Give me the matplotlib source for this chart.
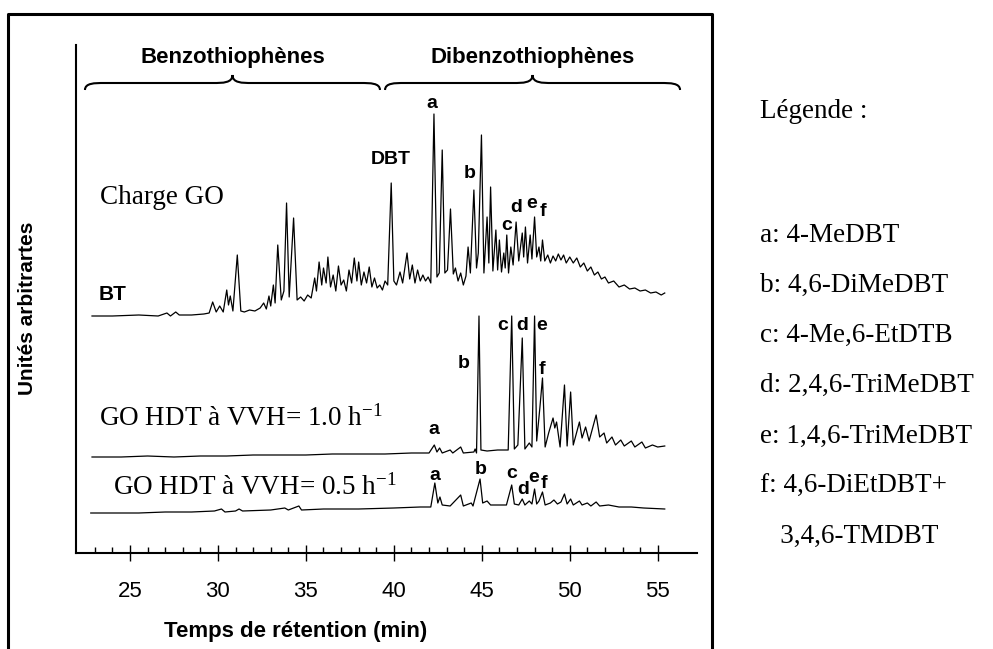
# -*- coding: utf-8 -*-

import matplotlib
matplotlib.use("Agg")
from matplotlib import pyplot as plt
from matplotlib.path import Path
from matplotlib.patches import PathPatch
from matplotlib.lines import Line2D

plt.rcParams['font.family'] = ['Liberation Sans', 'DejaVu Sans']
plt.rcParams['mathtext.fontset'] = 'custom'
plt.rcParams['mathtext.rm'] = 'Liberation Serif'
plt.rcParams['mathtext.default'] = 'rm'

# chromatograms: (retention time in min, signal in arbitrary units)
charge_go = [
    (22.84, 237), (24.0, 237), (25.5, 238), (26.6, 237), (27.1, 240), (27.3, 237), (27.6, 241),
    (27.8, 238), (28.5, 238), (29.2, 239), (29.5, 240), (29.7, 251), (29.9, 241), (30.1, 247),
    (30.3, 241), (30.5, 263), (30.6, 248), (30.7, 257), (30.85, 242), (31.1, 298), (31.3, 242),
    (31.5, 241), (31.8, 243), (32.1, 242), (32.4, 245), (32.6, 250), (32.75, 244), (32.9, 257),
    (33.0, 247), (33.15, 268), (33.25, 250), (33.4, 308), (33.6, 253), (33.75, 262), (33.9, 350),
    (34.05, 256), (34.3, 335), (34.5, 253), (34.7, 256), (34.9, 252), (35.1, 258), (35.3, 255),
    (35.5, 275), (35.6, 262), (35.75, 291), (35.9, 268), (36.0, 285), (36.15, 270), (36.25, 296),
    (36.4, 266), (36.55, 278), (36.7, 262), (36.85, 287), (37.0, 268), (37.15, 273), (37.3, 262),
    (37.45, 283), (37.6, 270), (37.75, 295), (37.9, 272), (38.0, 291), (38.15, 268), (38.3, 281),
    (38.45, 270), (38.6, 286), (38.75, 266), (38.9, 275), (39.05, 265), (39.2, 268), (39.35, 263),
    (39.5, 272), (39.65, 268), (39.85, 370), (40.0, 272), (40.15, 268), (40.35, 281), (40.5, 270),
    (40.75, 300), (40.9, 274), (41.05, 288), (41.2, 270), (41.35, 283), (41.5, 272), (41.65, 278),
    (41.8, 272), (41.95, 276), (42.1, 270), (42.28, 439), (42.45, 276), (42.58, 280), (42.75, 403),
    (42.9, 280), (43.05, 283), (43.22, 344), (43.38, 279), (43.5, 285), (43.65, 272), (43.8, 280),
    (43.95, 268), (44.1, 277), (44.22, 306), (44.35, 280), (44.55, 363), (44.7, 285), (44.8, 300),
    (44.98, 418), (45.12, 280), (45.3, 336), (45.4, 290), (45.5, 366), (45.63, 282), (45.8, 323),
    (45.9, 283), (46.0, 313), (46.12, 281), (46.25, 300), (46.33, 285), (46.42, 318), (46.52, 280),
    (46.65, 306), (46.78, 288), (46.95, 331), (47.1, 292), (47.3, 320), (47.38, 296), (47.48, 326),
    (47.6, 290), (47.75, 318), (47.85, 294), (48.0, 336), (48.12, 296), (48.25, 306), (48.35, 292),
    (48.45, 313), (48.58, 292), (48.75, 298), (48.9, 290), (49.05, 297), (49.2, 292), (49.35, 299),
    (49.5, 293), (49.65, 298), (49.8, 290), (50.0, 296), (50.2, 290), (50.4, 295), (50.6, 286),
    (50.8, 290), (51.0, 282), (51.2, 286), (51.4, 278), (51.6, 281), (51.8, 274), (52.0, 276),
    (52.2, 270), (52.5, 272), (52.8, 266), (53.1, 268), (53.4, 264), (53.7, 265), (54.0, 262),
    (54.3, 263), (54.6, 260), (54.9, 261), (55.2, 258), (55.4, 260),
]

hdt_vvh_10 = [
    (22.84, 96), (24.5, 96), (26.0, 97), (27.5, 96), (29.0, 97), (30.5, 97), (32.0, 98),
    (33.5, 98), (35.0, 98), (36.5, 99), (38.0, 99), (39.5, 99), (41.0, 100), (42.0, 100),
    (42.3, 108), (42.45, 101), (42.6, 105), (42.75, 100), (43.2, 103), (43.35, 100), (43.8, 106),
    (43.95, 100), (44.55, 101), (44.62, 104), (44.7, 100), (44.84, 237), (44.95, 103), (45.3, 102),
    (45.9, 103), (46.5, 103), (46.7, 237), (46.85, 104), (47.05, 108), (47.3, 215), (47.45, 104),
    (47.7, 110), (47.85, 106), (48.0, 237), (48.12, 112), (48.3, 145), (48.45, 175), (48.6, 106),
    (48.8, 120), (49.05, 135), (49.15, 125), (49.25, 131), (49.45, 106), (49.7, 168), (49.85, 107),
    (50.05, 161), (50.2, 108), (50.55, 131), (50.7, 115), (50.9, 126), (51.1, 112), (51.5, 138),
    (51.7, 116), (51.95, 120), (52.1, 110), (52.4, 116), (52.6, 108), (52.9, 113), (53.1, 107),
    (53.5, 112), (53.7, 106), (54.1, 111), (54.3, 105), (54.7, 108), (55.0, 106), (55.4, 107),
]

hdt_vvh_05 = [
    (22.77, 40), (24.0, 40), (25.5, 40), (27.0, 41), (28.5, 41), (29.8, 42), (30.2, 44),
    (30.4, 41), (31.0, 42), (31.2, 44), (31.4, 42), (33.0, 43), (33.8, 45), (34.0, 43),
    (34.6, 47), (34.75, 43), (36.0, 44), (38.0, 44), (40.0, 45), (41.5, 46), (42.1, 46),
    (42.33, 70), (42.5, 50), (42.62, 56), (42.75, 48), (43.2, 47), (43.8, 58), (43.95, 47),
    (44.4, 50), (44.5, 47), (44.9, 74), (45.05, 50), (45.3, 52), (45.5, 48), (46.4, 48),
    (46.7, 68), (46.85, 49), (47.1, 48), (47.3, 54), (47.45, 48), (47.7, 52), (47.85, 49),
    (48.0, 64), (48.12, 49), (48.25, 52), (48.45, 61), (48.6, 48), (48.9, 50), (49.1, 53),
    (49.3, 49), (49.5, 51), (49.7, 59), (49.85, 49), (50.05, 54), (50.2, 48), (50.55, 52),
    (50.7, 48), (51.0, 50), (51.2, 47), (51.5, 51), (51.7, 47), (52.2, 48), (52.8, 46),
    (53.5, 46), (54.2, 45), (55.4, 44),
]

# peak letters: (text, time, height)
charge_peaks = [('DBT', 39.84, 393), ('a', 42.17, 450), ('b', 44.33, 380), ('c', 46.40, 327),
                ('d', 46.98, 345), ('e', 47.85, 349), ('f', 48.48, 342)]
vvh10_peaks = [('a', 42.28, 123), ('b', 43.99, 189), ('c', 46.2, 228), ('d', 47.32, 228),
               ('e', 48.42, 228), ('f', 48.42, 183)]
vvh05_peaks = [('a', 42.31, 78), ('b', 44.93, 83), ('c', 46.69, 79), ('d', 47.37, 63),
               ('e', 47.97, 76), ('f', 48.54, 70)]

# trace names: (text, start time, height)
trace_names = [('Charge GO', 23.29, 355), ('GO HDT à VVH= 1.0 h$^{-1}$', 23.24, 135),
               ('GO HDT à VVH= 0.5 h$^{-1}$', 24.03, 66)]

groups = ['Benzothiophènes', 'Dibenzothiophènes']
group_start = [22.44, 39.50]
group_end = [39.21, 56.27]

legend_title = 'Légende :'
legend_lines = ['a: 4-MeDBT', 'b: 4,6-DiMeDBT', 'c: 4-Me,6-EtDTB', 'd: 2,4,6-TriMeDBT',
                'e: 1,4,6-TriMeDBT', 'f: 4,6-DiEtDBT+', '   3,4,6-TMDBT']


def brace(x0, x1, y_end, y_flat, y_tip, c=0.55):
    xm = (x0 + x1) / 2
    verts = [(x0, y_end), (x0, y_flat), (x0 + c, y_flat), (x0 + 2 * c, y_flat),
             (xm - 2 * c, y_flat),
             (xm - c, y_flat), (xm, y_flat), (xm, y_tip),
             (xm, y_flat), (xm + c, y_flat), (xm + 2 * c, y_flat),
             (x1 - 2 * c, y_flat),
             (x1 - c, y_flat), (x1, y_flat), (x1, y_end)]
    codes = [Path.MOVETO, Path.CURVE4, Path.CURVE4, Path.CURVE4, Path.LINETO,
             Path.CURVE4, Path.CURVE4, Path.CURVE4, Path.CURVE4, Path.CURVE4, Path.CURVE4,
             Path.LINETO, Path.CURVE4, Path.CURVE4, Path.CURVE4]
    return Path(verts, codes)


W, H = 993, 649
fig = plt.figure(figsize=(W / 100, H / 100), dpi=100)
ax = fig.add_axes([75.7 / W, 1 - 553 / H, 621.3 / W, 508 / H])

for trace in (charge_go, hdt_vvh_10, hdt_vvh_05):
    t, y = zip(*trace)
    ax.plot(t, y, color='black', lw=0.9)

for peaks in (charge_peaks, vvh10_peaks, vvh05_peaks):
    for name, t, y in peaks:
        ax.text(t, y, name, ha='center', va='center', fontsize=14, fontweight='bold')

for name, t, y in trace_names:
    ax.text(t, y, name, ha='left', va='center', fontsize=19.5, family='Liberation Serif')
ax.text(24.03, 258, 'BT', ha='center', va='center', fontsize=15, fontweight='bold')

for name, x0, x1 in zip(groups, group_start, group_end):
    ax.add_patch(PathPatch(brace(x0, x1, 463, 470, 478), fill=False, lw=1.5,
                           edgecolor='black', clip_on=False))
    ax.text((x0 + x1) / 2, 496, name, ha='center', va='center', fontsize=16,
            fontweight='bold')

ax.set_xlim(21.913, 57.234)
ax.set_ylim(0, 508)
ax.set_yticks([])
ax.set_xticks(range(25, 56, 5))
ax.set_xticks([m for m in range(23, 56) if m % 5], minor=True)
ax.tick_params(axis='x', which='major', direction='inout', length=12, width=1.0,
               pad=14, labelsize=16)
ax.tick_params(axis='x', which='minor', direction='in', length=4.5, width=1.0)
for side in ('top', 'right'):
    ax.spines[side].set_visible(False)
for side in ('left', 'bottom'):
    ax.spines[side].set_linewidth(1.5)

ax.set_xlabel('Temps de rétention (min)', fontsize=16, fontweight='bold')
ax.xaxis.set_label_coords((296 - 75.7) / 621.3, (553 - 631) / 508)
ax.xaxis.label.set_va('center')
ax.set_ylabel('Unités arbitrartes', fontsize=15, fontweight='bold')
ax.yaxis.set_label_coords((28 - 75.7) / 621.3, (553 - 308) / 508)
ax.yaxis.label.set_va('center')

# outer frame of the figure panel
fig.add_artist(Line2D([8 / W, 8 / W, 712 / W, 712 / W], [0, 1 - 14 / H, 1 - 14 / H, 0],
                      color='black', lw=2.2, transform=fig.transFigure))

# legend block on the right
fig.text(760 / W, 1 - 112 / H, legend_title, ha='left', va='center', fontsize=19.5,
         family='Liberation Serif')
for i, line in enumerate(legend_lines):
    fig.text(760 / W, 1 - (235 + 50.3 * i) / H, line, ha='left', va='center', fontsize=19.5,
             family='Liberation Serif')

fig.savefig('out.png', dpi=100)
